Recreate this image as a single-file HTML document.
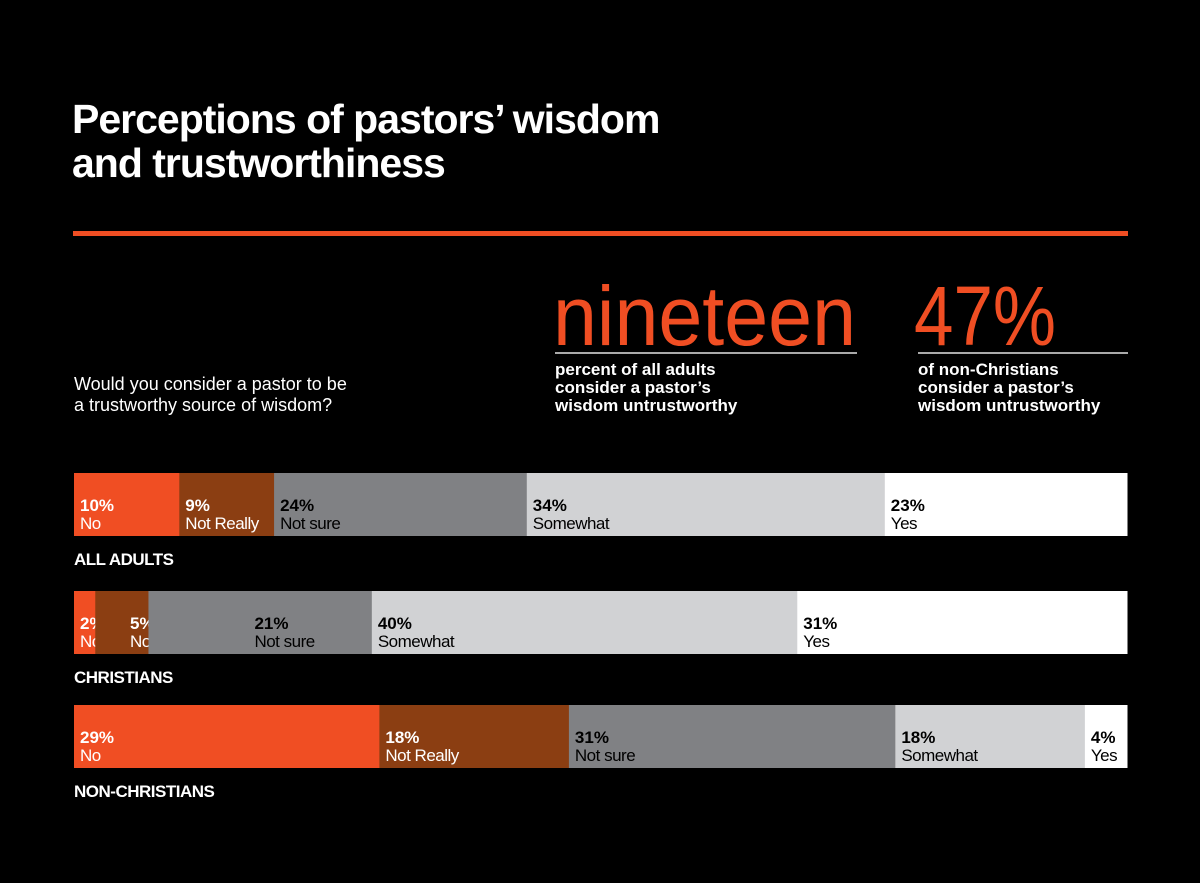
<!DOCTYPE html>
<html><head><meta charset="utf-8"><style>
html,body{margin:0;padding:0;background:#000;}
svg{display:block;font-family:"Liberation Sans",Arial,sans-serif;}
</style></head><body>
<svg id="chart" width="1200" height="883" viewBox="0 0 1200 883">
<rect width="1200" height="883" fill="#000"/>
<text x="72" y="133" fill="#fff" font-size="41" font-weight="bold" letter-spacing="-1">Perceptions of pastors’ wisdom</text>
<text x="72" y="177" fill="#fff" font-size="41" font-weight="bold" letter-spacing="-1">and trustworthiness</text>
<rect x="73" y="231" width="1055" height="5" fill="#f04e23"/>
<text x="74" y="390" fill="#fff" font-size="18">Would you consider a pastor to be</text>
<text x="74" y="411" fill="#fff" font-size="18">a trustworthy source of wisdom?</text>
<text x="553" y="345" fill="#f04e23" font-size="84" textLength="303" lengthAdjust="spacingAndGlyphs">nineteen</text>
<rect x="555" y="352" width="302" height="2" fill="#aaa"/>
<text x="555" y="375" fill="#fff" font-size="17" font-weight="bold"><tspan x="555">percent of all adults</tspan><tspan x="555" dy="18">consider a pastor’s</tspan><tspan x="555" dy="18">wisdom untrustworthy</tspan></text>
<text x="914" y="345" fill="#f04e23" font-size="84" textLength="142" lengthAdjust="spacingAndGlyphs">47%</text>
<rect x="918" y="352" width="210" height="2" fill="#aaa"/>
<text x="918" y="375" fill="#fff" font-size="17" font-weight="bold"><tspan x="918">of non-Christians</tspan><tspan x="918" dy="18">consider a pastor’s</tspan><tspan x="918" dy="18">wisdom untrustworthy</tspan></text>
<g id="bars"></g>
</svg>
<script>
const groups = ["ALL ADULTS", "CHRISTIANS", "NON-CHRISTIANS"];
const categories = ["No", "Not Really", "Not sure", "Somewhat", "Yes"];
const allAdults = [10, 9, 24, 34, 23];
const christians = [2, 5, 21, 40, 31];
const nonChristians = [29, 18, 31, 18, 4];
const series = [allAdults, christians, nonChristians];
const colors = ["#f04e23", "#8b3e12", "#808184", "#d1d2d4", "#ffffff"];
const textColors = ["#fff", "#fff", "#000", "#000", "#000"];
const X0 = 74, W = 1053;
const rowTops = [473, 591, 705], BAR_H = 63;
const xScale = (v, total) => v / total * W;
const NS = "http://www.w3.org/2000/svg";
const g = document.getElementById("bars");
function mk(tag, attrs) { const e = document.createElementNS(NS, tag); for (const k in attrs) e.setAttribute(k, attrs[k]); return e; }
series.forEach((vals, r) => {
  const total = vals.reduce((a, b) => a + b, 0);
  let x = X0, prevLabel = -1000;
  const top = rowTops[r];
  vals.forEach((v, i) => {
    const w = xScale(v, total);
    const rect = mk("rect", {x: x, y: top, width: w + 0.5, height: BAR_H, fill: colors[i]});
    
    
    g.appendChild(rect);
    let lx = Math.max(x + 6, prevLabel + 50);
    if (r === 1 && i === 2) lx = Math.max(lx, x + 106);
    prevLabel = lx;
    const t1 = mk("text", {x: lx, y: top + 38, fill: textColors[i], "font-size": 17, "font-weight": "bold"});
    t1.textContent = v + "%";
    
    
    g.appendChild(t1);
    const t2 = mk("text", {x: lx, y: top + 56, fill: textColors[i], "font-size": 17, "letter-spacing": "-0.5"});
    t2.textContent = categories[i];
    
    
    g.appendChild(t2);
    x += w;
  });
  const gl = mk("text", {x: 74, y: top + BAR_H + 29, fill: "#fff", "font-size": 17, "font-weight": "bold", "letter-spacing": "-0.5"});
  gl.textContent = groups[r];
  
  
  g.appendChild(gl);
});
</script>
</body></html>
